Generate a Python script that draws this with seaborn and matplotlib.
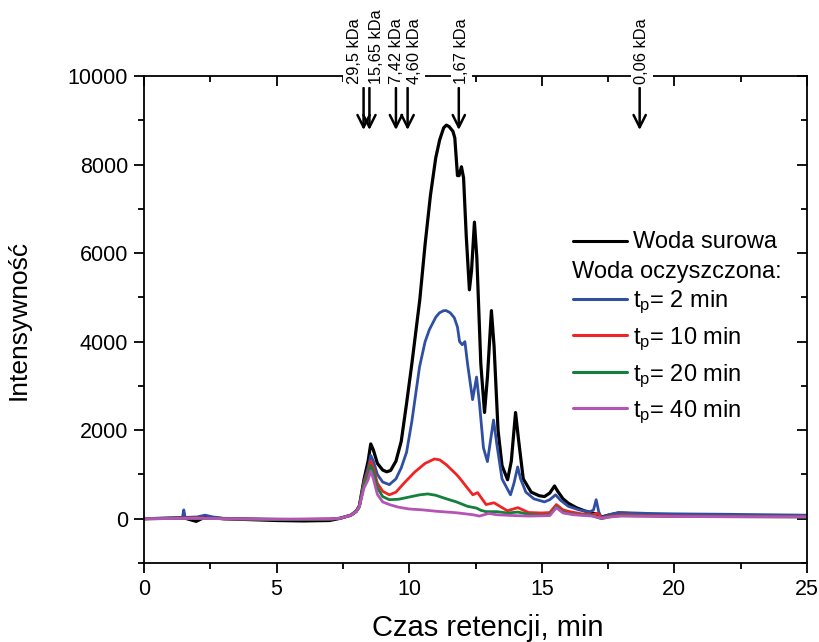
import matplotlib
matplotlib.use("Agg")
import matplotlib.pyplot as plt
from matplotlib.lines import Line2D
import numpy as np
import pandas as pd
import seaborn as sns

# --- chromatogram traces (retention time in min, detector intensity) ---
raw_t = [0, 1.0, 1.5, 1.97, 2.3, 3.0, 4.0, 5.0, 6.0, 7.0, 7.4, 7.8, 8.0, 8.12, 8.3, 8.45,
         8.55, 8.65, 8.8, 9.0, 9.15, 9.3, 9.5, 9.7, 9.9, 10.1, 10.4, 10.6, 10.8, 11.0,
         11.15, 11.3, 11.4, 11.5, 11.65, 11.72, 11.82, 11.88, 11.97, 12.05, 12.15, 12.27,
         12.35, 12.46, 12.55, 12.7, 12.84, 12.95, 13.1, 13.2, 13.35, 13.5, 13.71, 13.85,
         14.01, 14.12, 14.3, 14.6, 14.9, 15.1, 15.3, 15.48, 15.6, 15.8, 16.0, 16.3, 16.6,
         16.9, 17.1, 17.2, 17.5, 17.9, 18.5, 19.0, 20.0, 22.0, 25.0]
raw_i = [0, 10, 20, -60, 40, 0, -20, -40, -50, -40, 10, 80, 170, 290, 900, 1300,
         1690, 1550, 1250, 1100, 1060, 1090, 1300, 1750, 2600, 3500, 4950, 6200, 7300, 8150,
         8560, 8830, 8890, 8860, 8750, 8600, 7750, 7750, 7950, 7700, 6400, 5170,
         5600, 6700, 5900, 3500, 2400, 3200, 4700, 3900, 2000, 1200, 880, 1300,
         2400, 1800, 900, 600, 520, 500, 580, 740, 620, 450, 350, 250, 180,
         130, 100, 30, 80, 130, 110, 100, 80, 70, 60]

tp2_t = [0, 1.0, 1.45, 1.5, 1.55, 2.0, 2.3, 2.6, 3.0, 4.0, 5.0, 6.0, 7.0, 7.4, 7.8, 8.0,
         8.12, 8.3, 8.45, 8.55, 8.65, 8.8, 9.0, 9.25, 9.5, 9.7, 9.9, 10.1, 10.39, 10.6,
         10.76, 11.0, 11.14, 11.3, 11.4, 11.55, 11.7, 11.82, 11.9, 12.0, 12.1, 12.2, 12.39,
         12.54, 12.65, 12.8, 12.95, 13.05, 13.18, 13.3, 13.5, 13.82, 13.95, 14.09, 14.2,
         14.4, 14.7, 15.1, 15.3, 15.52, 15.7, 16.0, 16.4, 16.8, 16.95, 17.05, 17.15, 17.25,
         17.6, 17.9, 18.5, 19.0, 20.0, 22.0, 25.0]
tp2_i = [0, 20, 30, 200, 30, 40, 80, 40, 10, 0, -10, -20, -10, 15, 80, 165,
         280, 850, 1150, 1430, 1300, 1000, 830, 770, 900, 1150, 1500, 2200, 3430, 4000,
         4270, 4550, 4650, 4700, 4700, 4650, 4540, 4330, 4000, 3930, 4000, 3500, 2690,
         3200, 2600, 1600, 1290, 1700, 2230, 1700, 900, 540, 800, 1170, 900,
         600, 450, 380, 430, 540, 420, 280, 200, 150, 200, 430, 150, 30,
         100, 140, 130, 120, 110, 100, 80]

tp10_t = [0, 1.0, 2.0, 3.0, 5.0, 7.0, 7.4, 7.8, 8.0, 8.12, 8.3, 8.45, 8.55, 8.65, 8.8,
          9.0, 9.25, 9.5, 9.8, 10.2, 10.6, 10.95, 11.15, 11.4, 11.78, 11.9, 12.16, 12.4,
          12.58, 12.9, 13.2, 13.7, 14.1, 14.5, 15.0, 15.3, 15.55, 15.8, 16.05, 16.5, 16.9,
          17.1, 17.25, 17.6, 18.0, 19.0, 20.0, 25.0]
tp10_i = [0, 10, 20, 0, -20, -10, 10, 80, 160, 270, 820, 1050, 1300, 1150, 800,
          620, 540, 600, 800, 1050, 1250, 1350, 1330, 1220, 1000, 920, 720, 540,
          590, 320, 360, 180, 250, 140, 130, 140, 320, 200, 160, 110, 90,
          120, 20, 60, 90, 70, 60, 50]

tp20_t = [0, 1.0, 2.0, 3.0, 5.0, 7.0, 7.4, 7.8, 8.0, 8.12, 8.3, 8.45, 8.55, 8.65, 8.8,
          9.0, 9.25, 9.6, 10.0, 10.4, 10.7, 11.0, 11.4, 11.78, 12.2, 12.54, 12.7, 12.9,
          13.3, 13.7, 14.1, 14.5, 15.0, 15.3, 15.55, 15.8, 16.2, 16.9, 17.25, 17.6, 18.0,
          20.0, 25.0]
tp20_i = [0, 10, 10, 0, -20, -10, 10, 80, 160, 270, 780, 980, 1200, 1050, 700,
          500, 430, 440, 490, 540, 560, 530, 450, 380, 280, 240, 190, 160,
          160, 130, 150, 100, 80, 90, 270, 150, 100, 70, 0, 50, 70,
          50, 40]

tp40_t = [0, 2.0, 3.0, 5.0, 7.0, 7.4, 7.8, 8.0, 8.12, 8.3, 8.45, 8.55, 8.65, 8.8, 9.0,
          9.25, 9.6, 10.0, 10.5, 11.0, 11.78, 12.4, 12.65, 13.0, 13.3, 14.0, 14.5, 15.3,
          15.55, 15.8, 16.2, 16.9, 17.25, 17.6, 18.0, 20.0, 25.0]
tp40_i = [0, 10, 0, -10, 0, 10, 80, 160, 270, 700, 880, 1080, 900, 550, 380,
          320, 260, 220, 200, 170, 135, 90, 60, 120, 90, 70, 60, 70,
          250, 130, 90, 60, 10, 40, 60, 50, 40]

series_names = ["Woda surowa", "t$_\\mathregular{p}$= 2 min", "t$_\\mathregular{p}$= 10 min",
                "t$_\\mathregular{p}$= 20 min", "t$_\\mathregular{p}$= 40 min"]
series_colors = ["#000000", "#2f4fa2", "#f02424", "#13803c", "#b455b4"]
series_widths = [2.3, 2.0, 2.0, 2.0, 2.0]

# --- molecular-weight markers ---
marker_times = [8.28, 8.50, 9.50, 9.94, 11.87, 18.69]
marker_labels = ["29,5 kDa", "15,65 kDa", "7,42 kDa", "4,60 kDa", "1,67 kDa", "0,06 kDa"]
marker_label_times = [7.93, 8.76, 9.52, 10.20, 11.97, 18.77]

sns.set_theme(style="white")
plt.rcParams["font.family"] = ["Liberation Sans", "DejaVu Sans"]
plt.rcParams["mathtext.fontset"] = "custom"
plt.rcParams["mathtext.rm"] = "Liberation Sans"
plt.rcParams["mathtext.it"] = "Liberation Sans"

frames = []
traces = [(raw_t, raw_i), (tp2_t, tp2_i), (tp10_t, tp10_i), (tp20_t, tp20_i), (tp40_t, tp40_i)]
for name, (t, inten) in zip(series_names, traces):
    frames.append(pd.DataFrame({"time": t, "intensity": inten, "series": name}))
df = pd.concat(frames, ignore_index=True)

fig = plt.figure(figsize=(8.19, 6.42), dpi=100)
ax = fig.add_axes([144 / 819, 1 - 563 / 642, 663 / 819, 487 / 642])

for name, color, lw in zip(series_names, series_colors, series_widths):
    sub = df[df["series"] == name]
    sns.lineplot(data=sub, x="time", y="intensity", color=color, linewidth=lw,
                 ax=ax, legend=False, sort=False, estimator=None)

ax.set_xlim(0, 25)
ax.set_ylim(-1000, 10000)
ax.set_xticks([0, 5, 10, 15, 20, 25])
ax.set_xticks(np.arange(0, 25.1, 2.5), minor=True)
ax.set_yticks([0, 2000, 4000, 6000, 8000, 10000])
ax.set_yticks(np.arange(-1000, 10001, 1000), minor=True)
ax.tick_params(axis="both", which="major", direction="out", length=7.2, width=1.3,
               labelsize=15.5, color="black", labelcolor="black", pad=4.3)
ax.tick_params(axis="both", which="minor", direction="out", length=4.3, width=1.3, color="black")
ax.tick_params(bottom=True, left=True, which="both")
for sp in ax.spines.values():
    sp.set_linewidth(1.3)
    sp.set_color("black")
    sp.set_visible(True)

# mirrored inward ticks on top and right
top = ax.secondary_xaxis("top")
top.set_xticks([0, 5, 10, 15, 20, 25])
top.set_xticks(np.arange(0, 25.1, 2.5), minor=True)
top.tick_params(which="major", direction="in", length=7, width=1.3, labeltop=False, color="black")
top.tick_params(which="minor", direction="in", length=4, width=1.3, color="black")
top.spines["top"].set_visible(False)
right = ax.secondary_yaxis("right")
right.set_yticks([0, 2000, 4000, 6000, 8000, 10000])
right.set_yticks(np.arange(-1000, 10001, 1000), minor=True)
right.tick_params(which="major", direction="in", length=7, width=1.3, labelright=False, color="black")
right.tick_params(which="minor", direction="in", length=4, width=1.3, color="black")
right.spines["right"].set_visible(False)

ax.set_xlabel("Czas retencji, min", fontsize=21, color="black")
ax.xaxis.set_label_coords(0.518, -0.105)
ax.set_ylabel("Intensywność", fontsize=19, labelpad=27, color="black")

# arrows with molecular-weight labels
for t in marker_times:
    ax.annotate("", xy=(t, 8780), xytext=(t, 9730),
                arrowprops=dict(arrowstyle="->", lw=1.8, color="black",
                                mutation_scale=22, shrinkA=0, shrinkB=0),
                annotation_clip=False)
for t, lab in zip(marker_label_times, marker_labels):
    ax.text(t, 9830, lab, rotation=90, ha="center", va="bottom", fontsize=11.8,
            color="black", clip_on=False, zorder=5,
            bbox=dict(facecolor="white", edgecolor="none", pad=2.5))

# legend drawn as lines and labels in axes coordinates
leg_x0, leg_x1, leg_tx = 0.6465, 0.728, 0.737
line_y = [0.6612, 0.5421, 0.4682, 0.3922, 0.3183]
text_y = [0.6468, 0.5257, 0.4497, 0.3737, 0.2998]
for color, ly, ty, name in zip(series_colors, line_y, text_y, series_names):
    ax.add_line(Line2D([leg_x0, leg_x1], [ly, ly], transform=ax.transAxes,
                       color=color, linewidth=2.2))
    ax.text(leg_tx, ty, name, transform=ax.transAxes, fontsize=17, va="baseline",
            ha="left", color="black")
ax.text(0.645, 0.5852, "Woda oczyszczona:", transform=ax.transAxes, fontsize=17,
        va="baseline", ha="left", color="black")

fig.savefig("out.png", dpi=100, facecolor="white")
